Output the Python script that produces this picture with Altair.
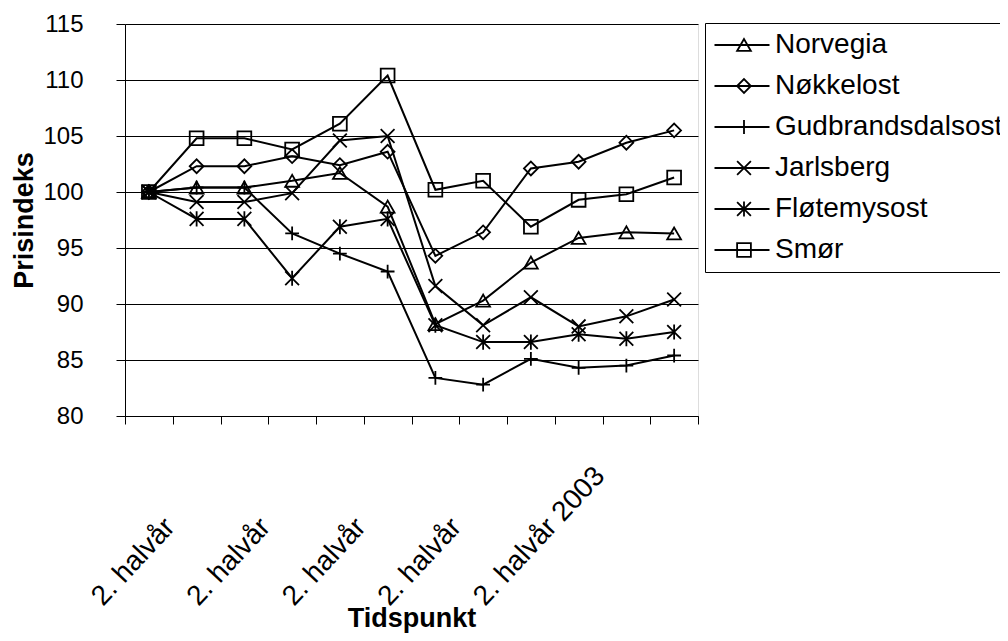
import altair as alt
import pandas as pd

categories = ["1. halvår 1999", "2. halvår 1999", "1. halvår 2000", "2. halvår 2000",
              "1. halvår 2001", "2. halvår 2001", "1. halvår 2002", "2. halvår 2002",
              "1. halvår 2003", "2. halvår 2003", "1. halvår 2004", "2. halvår 2004"]

series_names = ["Norvegia", "Nøkkelost", "Gudbrandsdalsost", "Jarlsberg", "Fløtemysost", "Smør"]

norvegia = [100, 100.4, 100.4, 101.0, 101.7, 98.7, 88.2, 90.3, 93.7, 95.9, 96.4, 96.3]
nokkelost = [100, 102.3, 102.3, 103.2, 102.4, 103.6, 94.3, 96.4, 102.1, 102.7, 104.4, 105.5]
gudbrandsdalsost = [100, 100.4, 100.4, 96.3, 94.5, 92.9, 83.4, 82.8, 85.1, 84.3, 84.5, 85.4]
jarlsberg = [100, 99.1, 99.1, 99.9, 104.6, 105.0, 91.6, 88.1, 90.6, 88.0, 88.9, 90.4]
flotemysost = [100, 97.6, 97.6, 92.3, 96.9, 97.6, 88.1, 86.6, 86.6, 87.3, 86.9, 87.5]
smor = [100, 104.8, 104.8, 103.8, 106.1, 110.4, 100.2, 101.0, 96.9, 99.3, 99.8, 101.3]

# tick labels as they appear (the first four are clipped to "2. halvår" in the original)
tick_categories = ["2. halvår 1999", "2. halvår 2000", "2. halvår 2001", "2. halvår 2002", "2. halvår 2003"]
tick_texts = ["2. halvår", "2. halvår", "2. halvår", "2. halvår", "2. halvår 2003"]

y_ticks = [80, 85, 90, 95, 100, 105, 110, 115]

series_values = [norvegia, nokkelost, gudbrandsdalsost, jarlsberg, flotemysost, smor]
shapes = [
    "triangle-up",
    "diamond",
    "M-1,0L1,0M0,-1L0,1",
    "M-1,-1L1,1M-1,1L1,-1",
    "M-1,-1L1,1M-1,1L1,-1M0,-1.1L0,1.1",
    "square",
]

rows = []
for name, vals in zip(series_names, series_values):
    for cat, v in zip(categories, vals):
        rows.append({"Tidspunkt": cat, "Ost": name, "Prisindeks": v})
df = pd.DataFrame(rows)

FONT = "Liberation Sans, Arial, sans-serif"

keys_js = "[" + ",".join("'" + k + "'" for k in tick_categories) + "]"
vals_js = "[" + ",".join("'" + k + "'" for k in tick_texts) + "]"
label_expr = f"indexof({keys_js}, datum.value) >= 0 ? {vals_js}[indexof({keys_js}, datum.value)] : ''"

x_enc = alt.X(
    "Tidspunkt:O",
    sort=categories,
    scale=alt.Scale(type="band", paddingInner=0, paddingOuter=0),
    axis=alt.Axis(
        title="Tidspunkt",
        labelExpr=label_expr,
        labelAngle=313,
        labelAlign="left",
        labelBaseline="middle",
        labelOffset=-100,
        labelPadding=177,
        labelFontSize=28,
        labelFont=FONT,
        labelColor="black",
        tickBand="extent",
        tickSize=8,
        tickColor="black",
        domainColor="black",
        grid=False,
        titleFontSize=27,
        titleFont=FONT,
        titleFontWeight="bold",
        titleColor="black",
        titleBaseline="middle",
        titleY=202,
        labelOverlap=False,
    ),
)

y_enc = alt.Y(
    "Prisindeks:Q",
    scale=alt.Scale(domain=[80, 115], nice=False, zero=False),
    axis=alt.Axis(
        title="Prisindeks",
        values=y_ticks,
        labelFontSize=24,
        labelFont=FONT,
        labelColor="black",
        labelPadding=33,
        tickSize=9,
        tickColor="black",
        domainColor="black",
        gridColor="black",
        gridWidth=1,
        titleFontSize=27,
        titleFont=FONT,
        titleFontWeight="bold",
        titleColor="black",
        titleBaseline="middle",
        titleX=-101,
    ),
)

lines = alt.Chart(df).mark_line(strokeWidth=2).encode(
    x=x_enc,
    y=y_enc,
    color=alt.Color(
        "Ost:N",
        scale=alt.Scale(domain=series_names, range=["black"] * 6),
        legend=alt.Legend(
            title=None,
            orient="none",
            legendX=580,
            legendY=-1,
            symbolType="M-2.75,0L2.75,0",
            symbolSize=400,
            symbolStrokeWidth=2,
            symbolOffset=15,
            labelOffset=19,
            labelFontSize=28,
            labelFont=FONT,
            labelColor="black",
            labelLimit=400,
            strokeColor="black",
            padding=8,
            rowPadding=13,
        ),
    ),
)

points = alt.Chart(df).mark_point(filled=False, color="black", strokeWidth=1.8, size=190, opacity=1).encode(
    x=x_enc,
    y=y_enc,
    shape=alt.Shape(
        "Ost:N",
        sort=series_names,
        scale=alt.Scale(range=shapes),
        legend=alt.Legend(
            title=None,
            orient="none",
            legendX=597,
            legendY=-1,
            symbolSize=190,
            symbolStrokeWidth=1.8,
            symbolStrokeColor="black",
            symbolFillColor="transparent",
            labelOpacity=0,
            labelFontSize=28,
            labelFont=FONT,
            labelLimit=400,
            padding=8,
            rowPadding=13,
        ),
    ),
)

chart = (
    alt.layer(lines, points)
    .properties(
        width=573,
        height=392,
        autosize=alt.AutoSizeParams(type="none"),
        padding={"left": 117, "top": 16, "right": 302, "bottom": 217},
    )
    .configure_view(stroke="#808080", strokeWidth=1)
    .configure(background="white")
)

chart.save("out.html", embed_options={"renderer": "svg", "actions": False})
